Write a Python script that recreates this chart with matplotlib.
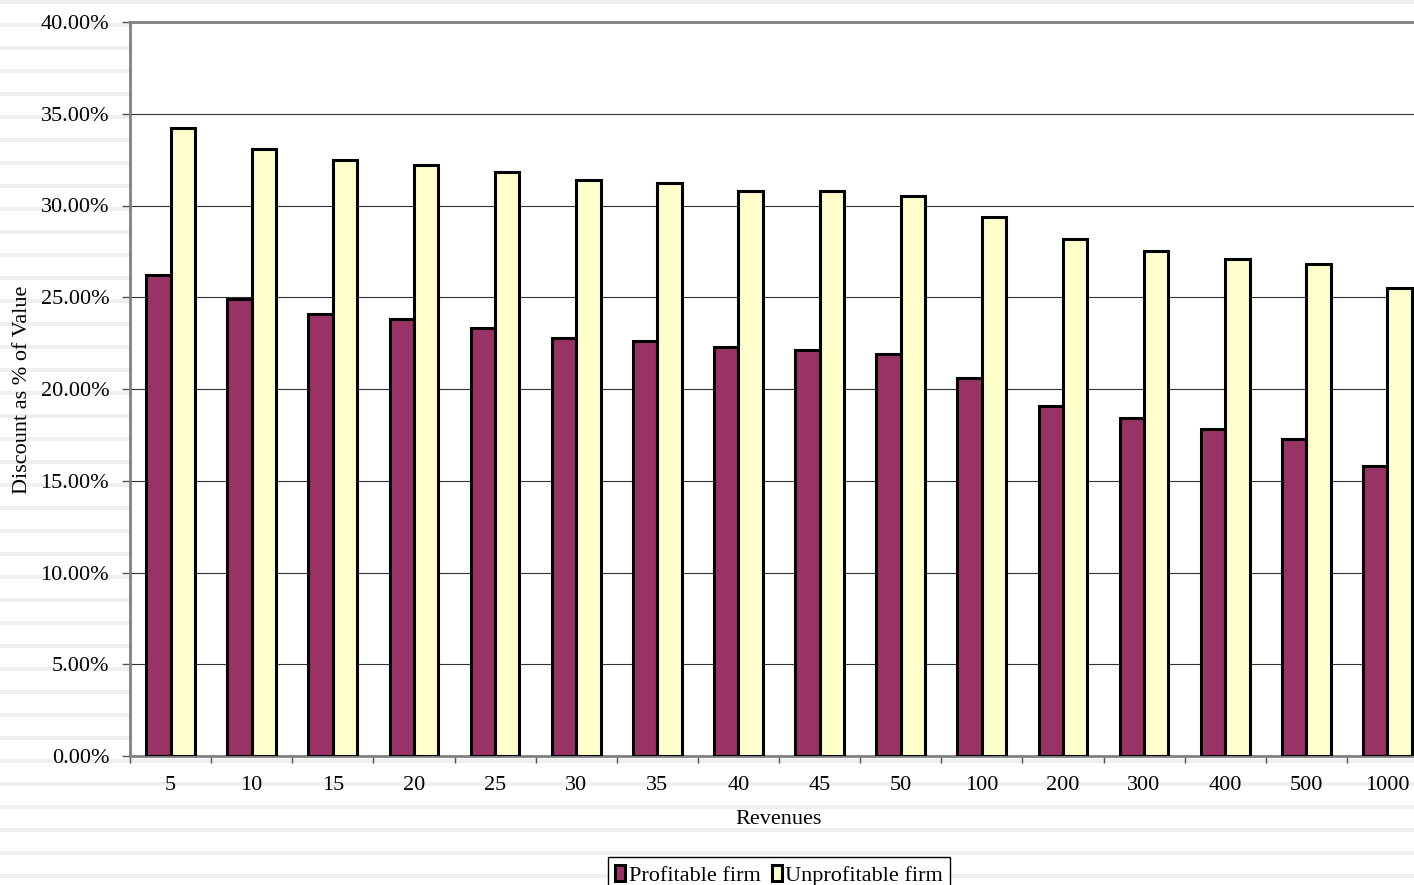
import matplotlib
matplotlib.use("Agg")
import matplotlib.pyplot as plt
from matplotlib.patches import Rectangle
from matplotlib.ticker import FixedLocator, FuncFormatter
import numpy as np

plt.rcParams['font.family'] = ['Liberation Serif', 'DejaVu Serif']

revenues = ["5", "10", "15", "20", "25", "30", "35", "40", "45", "50",
            "100", "200", "300", "400", "500", "1000"]
profitable = [26.2, 24.9, 24.1, 23.8, 23.3, 22.8, 22.6, 22.3, 22.1, 21.9,
              20.6, 19.1, 18.4, 17.8, 17.3, 15.8]
unprofitable = [34.2, 33.1, 32.5, 32.2, 31.8, 31.4, 31.2, 30.8, 30.8, 30.5,
                29.4, 28.2, 27.5, 27.1, 26.8, 25.5]
yticks = [0, 5, 10, 15, 20, 25, 30, 35, 40]

W, H = 1414, 885
fig = plt.figure(figsize=(W / 100, H / 100), dpi=100)
fig.patch.set_facecolor('white')

# striped slide background
bg = fig.add_axes([0, 0, 1, 1], zorder=-10)
bg.set_xlim(0, W)
bg.set_ylim(H, 0)
bg.axis('off')
y = 1.5
while y < H:
    bg.add_patch(Rectangle((0, y - 2), W, 4, facecolor='#efefef', edgecolor='none'))
    y += 23.0

ax = fig.add_axes([130 / W, 1 - 756 / H, (1428 - 130) / W, (756 - 22) / H], zorder=1)
ax.set_facecolor('white')

n = len(revenues)
x = np.arange(n)
bw = 0.3
ax.bar(x - bw / 2, profitable, width=bw, color='#993366', edgecolor='black',
       linewidth=2.2, label='Profitable firm', zorder=3)
ax.bar(x + bw / 2, unprofitable, width=bw, color='#FFFFCC', edgecolor='black',
       linewidth=2.2, label='Unprofitable firm', zorder=3)

ax.set_xlim(-0.5, n - 0.5)
ax.set_ylim(0, 40)
ax.set_yticks(yticks)
ax.yaxis.set_major_formatter(FuncFormatter(lambda v, p: f"{v:.2f}%"))
ax.yaxis.grid(True, color='#333333', linewidth=0.8, zorder=0)
ax.set_axisbelow(True)

ax.xaxis.set_major_locator(FixedLocator(np.arange(n + 1) - 0.5))
ax.xaxis.set_major_formatter(FuncFormatter(lambda v, p: ""))
ax.xaxis.set_minor_locator(FixedLocator(x))
ax.set_xticklabels(revenues, minor=True)
ax.tick_params(axis='x', which='major', length=5, width=1, color='#555555', direction='out')
ax.tick_params(axis='x', which='minor', length=0, pad=14.5, labelsize=16)
ax.tick_params(axis='y', length=6, width=1, color='#555555', direction='out', pad=9, labelsize=16)

for s in ['left', 'bottom', 'top']:
    ax.spines[s].set_color('#808080')
    ax.spines[s].set_linewidth(2)
ax.spines['right'].set_visible(False)

ax.set_xlabel('Revenues', fontsize=16, labelpad=11)
fig.text(23 / W, 1 - 390 / H, 'Discount as % of Value', rotation=90,
         ha='center', va='center', fontsize=16)

leg = fig.legend(loc='upper center', bbox_to_anchor=(779 / W, 1 - 857 / H),
                 ncol=2, fontsize=16, frameon=True, fancybox=False,
                 edgecolor='black', facecolor='white', framealpha=1,
                 handlelength=0.45, handleheight=0.75, handletextpad=0.15,
                 columnspacing=0.5, borderpad=0.35, borderaxespad=0)
leg.get_frame().set_linewidth(1)

fig.savefig('out.png', dpi=100)
